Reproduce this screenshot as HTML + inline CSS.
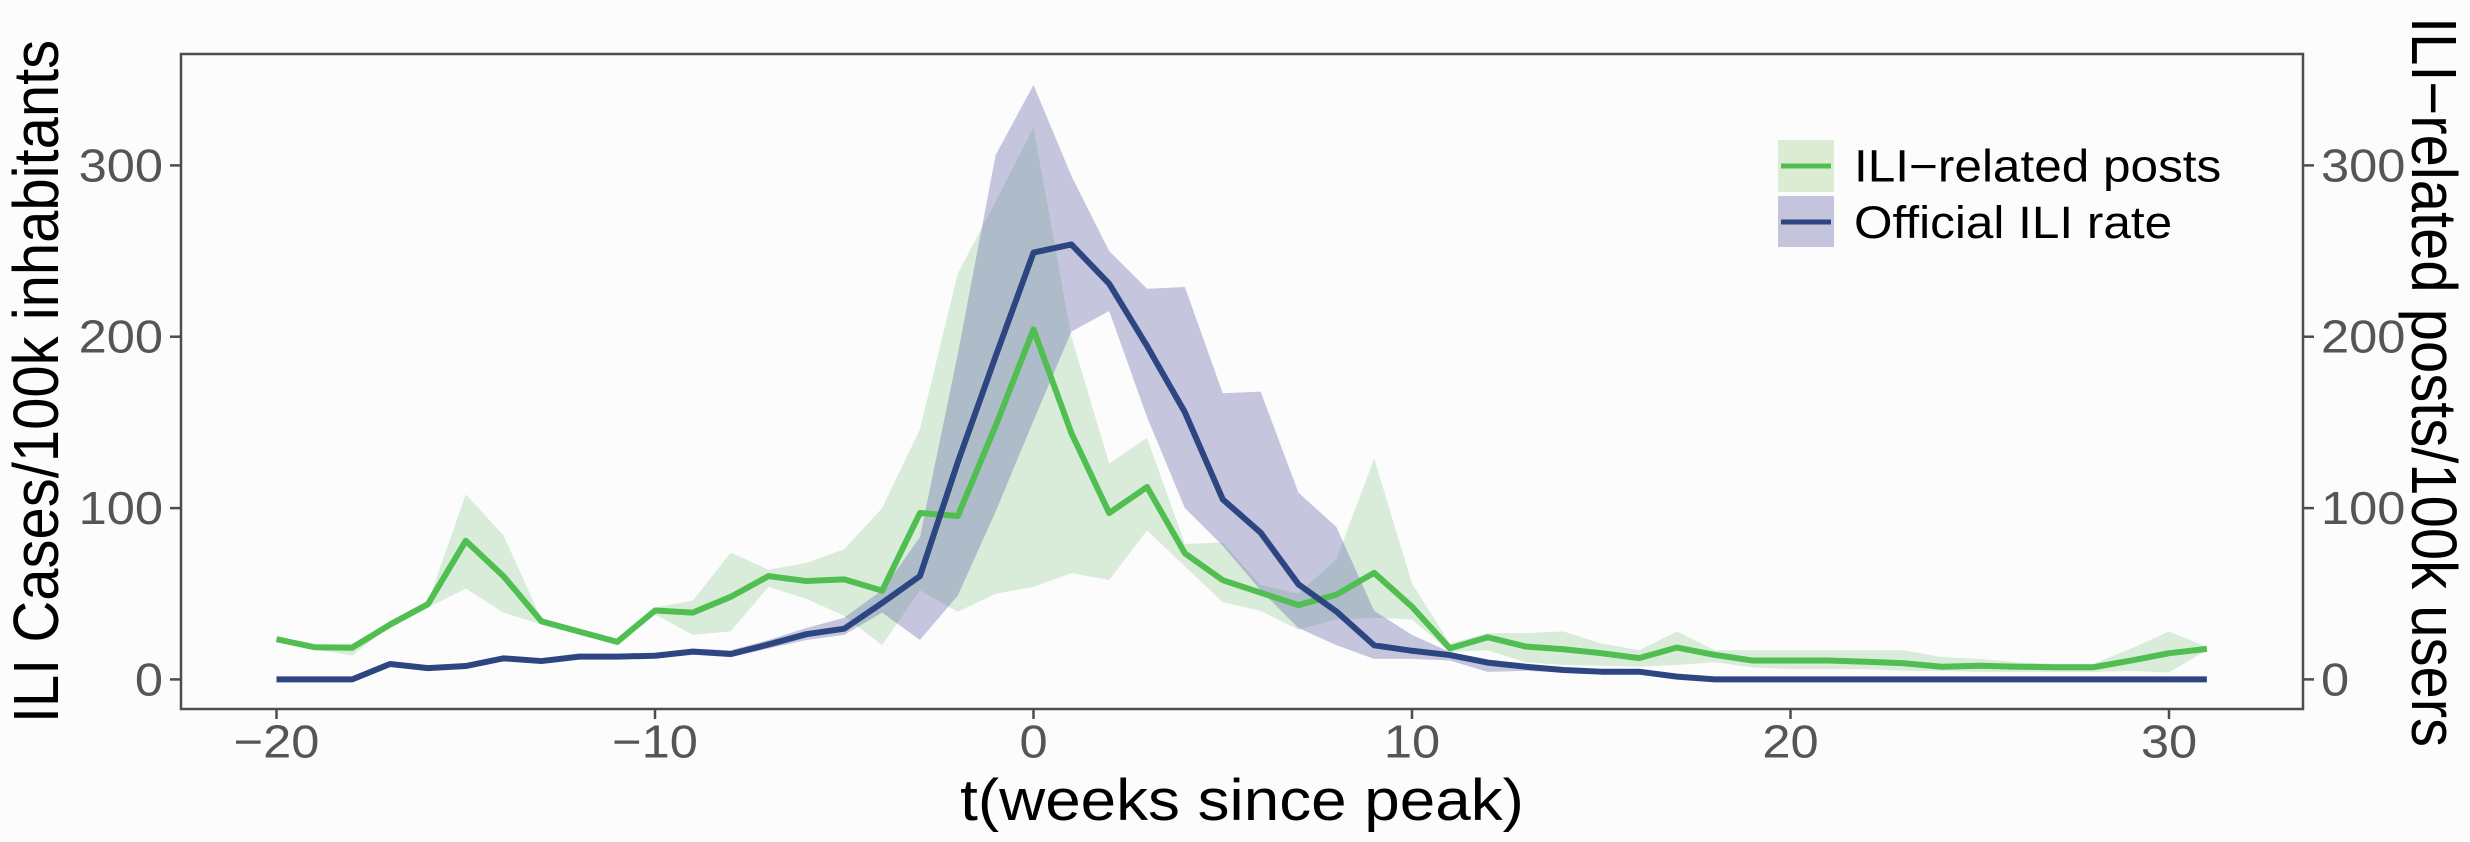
<!DOCTYPE html>
<html>
<head>
<meta charset="utf-8">
<style>
html,body{margin:0;padding:0;background:#fcfcfc;}
svg{display:block;}
text{font-family:"Liberation Sans",Arial,sans-serif;}
</style>
</head>
<body>
<svg width="2470" height="842" viewBox="0 0 2470 842" xmlns="http://www.w3.org/2000/svg">
<rect x="0" y="0" width="2470" height="842" fill="#fcfcfc"/>

<g transform="translate(1033.5,679.4) scale(37.85,-1.7133)">
  <!-- green band -->
  <polygon fill="rgb(76,175,80)" fill-opacity="0.2" stroke="none" points="
  -20,25 -19,20 -18,21 -17,33 -16,45 -15,108 -14,84 -13,35 -12,29 -11,23 -10,42 -9,46 -8,74 -7,64 -6,68 -5,76 -4,100 -3,146 -2,237 -1,279 0,322 1,200 2,126 3,141 4,79 5,80 6,55 7,50 8,70 9,129 10,56 11,21 12,27 13,27 14,28 15,21 16,17 17,28 18,17 19,17 20,17 21,17 22,17 23,17 24,13 25,12 26,10 27,9 28,9 29,18 30,28 31,19
  31,17 30,4 29,5 28,4.4 27,4.4 26,4.4 25,4.4 24,5 23,5 22,6 21,6 20,6 19,7 18,10 17,8.4 16,7.4 15,8 14,8.4 13,10 12,17 11,16 10,35 9,36 8,35 7,29 6,40 5,45 4,66 3,87 2,58 1,62 0,54 -1,50 -2,39.5 -3,52 -4,20 -5,37 -6,47 -7,54 -8,28 -9,26 -10,38 -11,21 -12,27 -13,32 -14,39 -15,53 -16,42 -17,31 -18,14 -19,17.5 -20,22"/>
  <!-- blue band -->
  <polygon fill="rgb(100,100,170)" fill-opacity="0.36" stroke="none" points="
  -20,0.8 -19,0.8 -18,0.8 -17,10 -16,8 -15,9 -14,13.5 -13,12 -12,15 -11,15 -10,15.5 -9,18 -8,17 -7,23 -6,30 -5,36 -4,52 -3,83 -2,190 -1,306 0,347 1,294 2,250 3,228 4,229 5,167 6,168 7,109 8,89 9,40 10,26 11,16 12,11 13,8.5 14,6.5 15,5.5 16,5.5 17,2.5 18,0.8 31,0.8
  31,-0.8 18,-0.8 17,0.8 16,3.5 15,3.5 14,4 13,5 12,4.4 11,11 10,12 9,12 8,20 7,30 6,52 5,78 4,100 3,153 2,215 1,203 0,151 -1,98 -2,49 -3,23 -4,39 -5,26 -6,23 -7,18 -8,13 -9,14.5 -10,12.5 -11,12 -12,12 -13,9.5 -14,11 -15,6.5 -16,5.5 -17,8 -18,-0.8 -20,-0.8"/>
  <!-- green line -->
  <polyline fill="none" stroke="#50be50" stroke-width="6" stroke-linejoin="round" vector-effect="non-scaling-stroke" points="
  -20,23.5 -19,18.8 -18,18.5 -17,32 -16,43.9 -15,80.9 -14,60.2 -13,33.9 -12,27.9 -11,21.9 -10,40.2 -9,39 -8,48.2 -7,60.3 -6,57.4 -5,58.4 -4,51.8 -3,97.1 -2,95.4 -1,148 0,204.3 1,143.8 2,97.1 3,112.3 4,73.6 5,57.9 6,50.6 7,43.4 8,49.4 9,62.2 10,42.4 11,18.1 12,24.6 13,19.2 14,17.6 15,15.3 16,12.4 17,18.6 18,14.3 19,11 20,11 21,11 22,10.3 23,9.4 24,7.4 25,8 26,7.4 27,7.1 28,7.1 29,11 30,15.3 31,17.8"/>
  <!-- blue line -->
  <polyline fill="none" stroke="#2d4682" stroke-width="6" stroke-linejoin="round" vector-effect="non-scaling-stroke" points="
  -20,0 -19,0 -18,0 -17,9 -16,6.6 -15,7.8 -14,12.3 -13,10.7 -12,13.3 -11,13.3 -10,13.8 -9,16.2 -8,14.8 -7,20.4 -6,26.4 -5,29.6 -4,44.6 -3,60.3 -2,126.8 -1,188.6 0,249.1 1,253.9 2,230.9 3,194.6 4,155.9 5,105.1 6,85.7 7,55.5 8,39.7 9,19.9 10,16.7 11,14.2 12,9.8 13,7.4 14,5.5 15,4.5 16,4.5 17,1.6 18,0 19,0 20,0 21,0 22,0 23,0 24,0 25,0 26,0 27,0 28,0 29,0 30,0 31,0"/>
</g>

<!-- panel border -->
<rect x="181" y="54" width="2122" height="655" fill="none" stroke="#4d4d4d" stroke-width="2.5"/>

<!-- ticks -->
<g stroke="#4d4d4d" stroke-width="2.5">
  <line x1="170" y1="165.4" x2="181" y2="165.4"/>
  <line x1="170" y1="336.7" x2="181" y2="336.7"/>
  <line x1="170" y1="508.1" x2="181" y2="508.1"/>
  <line x1="170" y1="679.4" x2="181" y2="679.4"/>
  <line x1="2303" y1="165.4" x2="2314" y2="165.4"/>
  <line x1="2303" y1="336.7" x2="2314" y2="336.7"/>
  <line x1="2303" y1="508.1" x2="2314" y2="508.1"/>
  <line x1="2303" y1="679.4" x2="2314" y2="679.4"/>
  <line x1="276.5" y1="709" x2="276.5" y2="719"/>
  <line x1="655" y1="709" x2="655" y2="719"/>
  <line x1="1033.5" y1="709" x2="1033.5" y2="719"/>
  <line x1="1412" y1="709" x2="1412" y2="719"/>
  <line x1="1790.5" y1="709" x2="1790.5" y2="719"/>
  <line x1="2169" y1="709" x2="2169" y2="719"/>
</g>

<!-- tick labels -->
<g fill="#555555" font-size="46">
  <text text-anchor="end" transform="translate(163,181.5) scale(1.1,1)">300</text>
  <text text-anchor="end" transform="translate(163,352.7) scale(1.1,1)">200</text>
  <text text-anchor="end" transform="translate(163,524.1) scale(1.1,1)">100</text>
  <text text-anchor="end" transform="translate(163,695.4) scale(1.1,1)">0</text>
  <text text-anchor="start" transform="translate(2321,181.5) scale(1.1,1)">300</text>
  <text text-anchor="start" transform="translate(2321,352.7) scale(1.1,1)">200</text>
  <text text-anchor="start" transform="translate(2321,524.1) scale(1.1,1)">100</text>
  <text text-anchor="start" transform="translate(2321,695.4) scale(1.1,1)">0</text>
  <text text-anchor="middle" transform="translate(276.5,757.5) scale(1.1,1)">−20</text>
  <text text-anchor="middle" transform="translate(655,757.5) scale(1.1,1)">−10</text>
  <text text-anchor="middle" transform="translate(1033.5,757.5) scale(1.1,1)">0</text>
  <text text-anchor="middle" transform="translate(1412,757.5) scale(1.1,1)">10</text>
  <text text-anchor="middle" transform="translate(1790.5,757.5) scale(1.1,1)">20</text>
  <text text-anchor="middle" transform="translate(2169,757.5) scale(1.1,1)">30</text>
</g>

<!-- axis titles -->
<g fill="#000" font-size="58">
  <text text-anchor="middle" transform="translate(1242,820) scale(1.1,1)">t(weeks since peak)</text>
  <text text-anchor="middle" transform="translate(58,381.5) scale(1.1,1) rotate(-90)">ILI Cases/100k inhabitants</text>
  <text text-anchor="middle" transform="translate(2412,382) scale(1.1,1) rotate(90)">ILI−related posts/100k users</text>
</g>

<!-- legend -->
<rect x="1778" y="140" width="56" height="52" fill="#dcebd4"/>
<rect x="1778" y="196" width="56" height="51" fill="#c4c4dc"/>
<line x1="1781" y1="166" x2="1831" y2="166" stroke="#50be50" stroke-width="5"/>
<line x1="1781" y1="222" x2="1831" y2="222" stroke="#2d4682" stroke-width="5"/>
<g fill="#000" font-size="45">
  <text transform="translate(1854,181.5) scale(1.1,1)">ILI−related posts</text>
  <text transform="translate(1854,238) scale(1.1,1)">Official ILI rate</text>
</g>
</svg>
</body>
</html>
